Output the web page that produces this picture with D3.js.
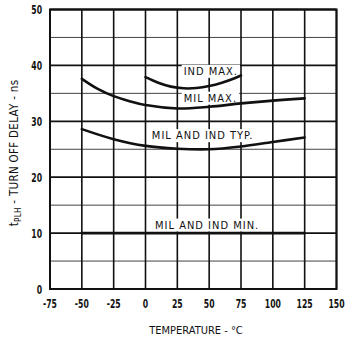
<!DOCTYPE html>
<html><head><meta charset="utf-8">
<script src="https://cdn.jsdelivr.net/npm/d3@7"></script>
<style>
html,body{margin:0;padding:0;background:#fff;}
text{font-family:"DejaVu Sans Condensed","DejaVu Sans",sans-serif;font-stretch:condensed;fill:#111;}
</style></head>
<body><svg id="c" width="345" height="338"></svg>
<script>
const xTicks = [-75,-50,-25,0,25,50,75,100,125,150];
const yTicks = [0,10,20,30,40,50];
const yMinor = [5,15,25,35,45];

const indMaxT = [0,10,20,30,40,50,60,70,75];
const indMaxV = [37.9,36.9,36.2,35.9,35.95,36.3,36.9,37.7,38.2];
const milMaxT = [-50,-37.5,-25,-12.5,0,25,50,75,100,125];
const milMaxV = [37.6,35.8,34.5,33.6,32.9,32.3,32.6,33.2,33.7,34.1];
const typT = [-50,-25,0,25,50,75,100,125];
const typV = [28.6,26.8,25.6,25.1,25.0,25.5,26.3,27.1];
const minT = [-50,125];
const minV = [10,10];

const labels = [
  {text:"IND MAX.", t:30, v:39.0},
  {text:"MIL MAX.", t:30, v:34.2},
  {text:"MIL AND IND TYP.", t:5, v:27.5},
  {text:"MIL AND IND MIN.", t:7.5, v:11.5}
];

const svg = d3.select("#c");
const m = {l:50, r:8.5, t:9.5, b:49};
const W = 345, H = 338;
const x = d3.scaleLinear().domain([-75,150]).range([m.l, W-m.r]);
const y = d3.scaleLinear().domain([0,50]).range([H-m.b, m.t]);

const g = svg.append("g");
g.selectAll(".mn").data(yMinor).join("line")
  .attr("x1",x(-75)).attr("x2",x(150)).attr("y1",d=>y(d)).attr("y2",d=>y(d))
  .attr("stroke","#444").attr("stroke-width",1);
g.selectAll(".mj").data(yTicks).join("line")
  .attr("x1",x(-75)).attr("x2",x(150)).attr("y1",d=>y(d)).attr("y2",d=>y(d))
  .attr("stroke","#111").attr("stroke-width",1.8);
g.selectAll(".vg").data(xTicks).join("line")
  .attr("x1",d=>x(d)).attr("x2",d=>x(d)).attr("y1",y(0)).attr("y2",y(50))
  .attr("stroke","#111").attr("stroke-width",1.6);
g.append("rect").attr("x",x(-75)).attr("y",y(50)).attr("width",x(150)-x(-75)).attr("height",y(0)-y(50))
  .attr("fill","none").attr("stroke","#111").attr("stroke-width",2);

const lg = svg.append("g");
labels.forEach(l=>{
  const t = lg.append("text").attr("x",x(l.t)).attr("y",y(l.v)).attr("dy","0.35em")
    .attr("font-size",11).attr("letter-spacing",1).text(l.text);
  const bb = t.node().getBBox();
  lg.insert("rect","text").attr("x",bb.x-2).attr("y",bb.y).attr("width",bb.width+4).attr("height",bb.height)
    .attr("fill","#fff");
});

const line = d3.line().x(d=>x(d[0])).y(d=>y(d[1])).curve(d3.curveCatmullRom);
[[indMaxT,indMaxV],[milMaxT,milMaxV],[typT,typV],[minT,minV]].forEach(([ts,vs])=>{
  svg.append("path").datum(ts.map((t,i)=>[t,vs[i]])).attr("d",line)
    .attr("fill","none").attr("stroke","#111").attr("stroke-width",2.6).attr("stroke-linecap","round");
});

const sx = 0.66;
svg.selectAll(".xt").data(xTicks).join("text")
  .attr("transform",d=>`translate(${x(d)},${y(0)+19}) scale(${sx},1)`).attr("text-anchor","middle")
  .attr("font-size",13).attr("font-weight","bold").text(d=>d);
svg.selectAll(".yt").data(yTicks).join("text")
  .attr("transform",d=>`translate(${x(-75)-8},${y(d)}) scale(${sx},1)`).attr("dy","0.35em").attr("text-anchor","end")
  .attr("font-size",13).attr("font-weight","bold").text(d=>d);

svg.append("text").attr("x",196).attr("y",334).attr("text-anchor","middle")
  .attr("font-size",11).text("TEMPERATURE - °C");
const yt = svg.append("text").attr("transform","translate(18,153) rotate(-90)").attr("text-anchor","middle")
  .attr("font-size",11.5).attr("letter-spacing",0.3);
yt.append("tspan").text("t");
yt.append("tspan").attr("font-size",8).attr("dy",3).text("PLH");
yt.append("tspan").attr("dy",-3).text(" - TURN OFF DELAY - ns");
</script></body></html>
